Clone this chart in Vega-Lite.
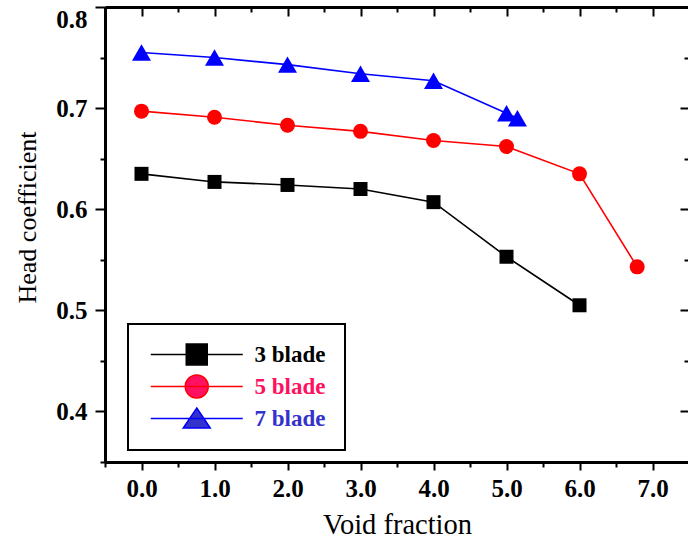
{
  "$schema": "https://vega.github.io/schema/vega-lite/v6.json",
  "width": 584,
  "height": 455,
  "autosize": {"type": "none"},
  "padding": {"left": 105, "top": 7, "right": 0, "bottom": 79},
  "background": "white",
  "config": {
    "view": {"stroke": null},
    "font": "Liberation Serif",
    "axis": {
      "domainColor": "black", "domainWidth": 3, "tickColor": "black", "tickWidth": 2,
      "grid": false, "labelFont": "Liberation Serif", "labelFontWeight": "bold",
      "labelFontSize": 25, "labelColor": "black", "titleFont": "Liberation Serif",
      "titleFontWeight": "normal", "titleFontSize": 26, "titleColor": "black",
      "labelOverlap": false, "labelFlush": false, "labelBound": false
    }
  },
  "data": {
    "values": [
      {"series": "3 blade", "void": 0.0, "head": 0.635},
      {"series": "3 blade", "void": 1.0, "head": 0.627},
      {"series": "3 blade", "void": 2.0, "head": 0.624},
      {"series": "3 blade", "void": 3.0, "head": 0.620},
      {"series": "3 blade", "void": 4.0, "head": 0.607},
      {"series": "3 blade", "void": 5.0, "head": 0.553},
      {"series": "3 blade", "void": 6.0, "head": 0.505},
      {"series": "5 blade", "void": 0.0, "head": 0.697},
      {"series": "5 blade", "void": 1.0, "head": 0.691},
      {"series": "5 blade", "void": 2.0, "head": 0.683},
      {"series": "5 blade", "void": 3.0, "head": 0.677},
      {"series": "5 blade", "void": 4.0, "head": 0.668},
      {"series": "5 blade", "void": 5.0, "head": 0.662},
      {"series": "5 blade", "void": 6.0, "head": 0.635},
      {"series": "5 blade", "void": 6.79, "head": 0.543},
      {"series": "7 blade", "void": 0.0, "head": 0.755},
      {"series": "7 blade", "void": 1.0, "head": 0.750},
      {"series": "7 blade", "void": 2.0, "head": 0.743},
      {"series": "7 blade", "void": 3.0, "head": 0.734},
      {"series": "7 blade", "void": 4.0, "head": 0.727},
      {"series": "7 blade", "void": 5.0, "head": 0.695},
      {"series": "7 blade", "void": 5.15, "head": 0.690}
    ]
  },
  "resolve": {"axis": {"x": "independent", "y": "independent"}},
  "layer": [
    {
      "mark": {"type": "line", "strokeWidth": 1.6},
      "encoding": {
        "x": {
          "field": "void", "type": "quantitative",
          "scale": {"domain": [-0.5, 7.5], "nice": false, "zero": false},
          "axis": {
            "orient": "bottom", "title": "Void fraction",
            "values": [-0.5, 0, 0.5, 1, 1.5, 2, 2.5, 3, 3.5, 4, 4.5, 5, 5.5, 6, 6.5, 7, 7.5],
            "tickSize": {"condition": {"test": "datum.value % 1 === 0", "value": 8}, "value": 5},
            "labelExpr": "datum.value % 1 === 0 ? format(datum.value, '.1f') : ''",
            "labelPadding": 6, "titleFontSize": 28.5,
            "titleX": 292, "titleY": 71, "titleBaseline": "alphabetic", "titleAnchor": "middle"
          }
        },
        "y": {
          "field": "head", "type": "quantitative",
          "scale": {"domain": [0.35, 0.8], "nice": false, "zero": false},
          "axis": {
            "orient": "left", "title": "Head coefficient",
            "values": [0.35, 0.4, 0.45, 0.5, 0.55, 0.6, 0.65, 0.7, 0.75, 0.8],
            "tickSize": {"condition": {"test": "abs(datum.value*10 - round(datum.value*10)) < 1e-6", "value": 10}, "value": 5},
            "labelExpr": "abs(datum.value*10 - round(datum.value*10)) < 1e-6 ? format(datum.value, '.1f') : ''",
            "labelBaseline": {"condition": {"test": "datum.value > 0.79", "value": "top"}, "value": "middle"},
            "labelPadding": 8,
            "titleX": -70, "titleY": 210, "titleAngle": -90, "titleBaseline": "alphabetic", "titleAlign": "center"
          }
        },
        "color": {
          "field": "series", "type": "nominal",
          "scale": {"domain": ["3 blade", "5 blade", "7 blade"], "range": ["#000000", "#ff0000", "#0000ff"]},
          "legend": {
            "orient": "none", "legendX": 23, "legendY": 317, "title": null,
            "padding": 19, "strokeColor": "black", "fillColor": "white",
            "symbolSize": 400, "symbolStrokeWidth": 1.5, "labelOffset": 84.5,
            "labelFont": "Liberation Serif", "labelFontWeight": "bold", "labelFontSize": 23,
            "rowPadding": 4, "labelBaseline": "middle",
            "encode": {
              "legend": {"update": {"strokeWidth": {"value": 2}}},
              "symbols": {"update": {
                "shape": {"signal": "datum.value === '3 blade' ? 'M-0.775,0L8.425,0M2.775,-1.05L4.875,-1.05L4.875,1.05L2.775,1.05Z' : datum.value === '5 blade' ? 'M-0.775,0L8.425,0M4.975,0A1.15,1.15,0,1,1,2.675,0A1.15,1.15,0,1,1,4.975,0Z' : 'M-0.775,0L8.425,0M3.825,-1.05L5.175,0.95L2.475,0.95Z'"},
                "size": {"value": 400},
                "fill": {"signal": "datum.value === '3 blade' ? '#000000' : datum.value === '5 blade' ? '#ff1060' : '#3333cc'"},
                "stroke": {"signal": "datum.value === '3 blade' ? '#000000' : datum.value === '5 blade' ? '#ff1060' : '#3333cc'"},
                "strokeWidth": {"value": 1.5},
                "opacity": {"value": 1},
                "fillOpacity": {"value": 1},
                "strokeOpacity": {"value": 1}
              }},
              "labels": {"update": {
                "fill": {"signal": "datum.value === '3 blade' ? '#000000' : datum.value === '5 blade' ? '#ff1060' : '#3333cc'"}
              }}
            }
          }
        }
      }
    },
    {
      "transform": [{"filter": "datum.series === '3 blade'"}],
      "mark": {"type": "point", "shape": "square", "size": 196, "filled": true, "color": "#000000", "opacity": 1, "strokeWidth": 0},
      "encoding": {
        "x": {
          "field": "void", "type": "quantitative",
          "axis": {
            "orient": "top", "title": null, "labels": false,
            "values": [-0.5, 0, 0.5, 1, 1.5, 2, 2.5, 3, 3.5, 4, 4.5, 5, 5.5, 6, 6.5, 7, 7.5],
            "tickSize": {"condition": {"test": "datum.value % 1 === 0", "value": -9}, "value": -5}
          }
        },
        "y": {
          "field": "head", "type": "quantitative",
          "axis": {
            "orient": "right", "title": null, "labels": false,
            "values": [0.35, 0.4, 0.45, 0.5, 0.55, 0.6, 0.65, 0.7, 0.75, 0.8],
            "tickSize": {"condition": {"test": "abs(datum.value*10 - round(datum.value*10)) < 1e-6", "value": -9}, "value": -5}
          }
        }
      }
    },
    {
      "transform": [{"filter": "datum.series === '5 blade'"}],
      "mark": {"type": "point", "shape": "circle", "size": 225, "filled": true, "color": "#ff0000", "opacity": 1, "strokeWidth": 0},
      "encoding": {
        "x": {"field": "void", "type": "quantitative", "axis": null},
        "y": {"field": "head", "type": "quantitative", "axis": null}
      }
    },
    {
      "transform": [{"filter": "datum.series === '7 blade'"}],
      "mark": {"type": "point", "shape": "triangle-up", "size": 361, "filled": true, "color": "#0000ff", "opacity": 1, "strokeWidth": 0},
      "encoding": {
        "x": {"field": "void", "type": "quantitative", "axis": null},
        "y": {"field": "head", "type": "quantitative", "axis": null}
      }
    }
  ]
}
